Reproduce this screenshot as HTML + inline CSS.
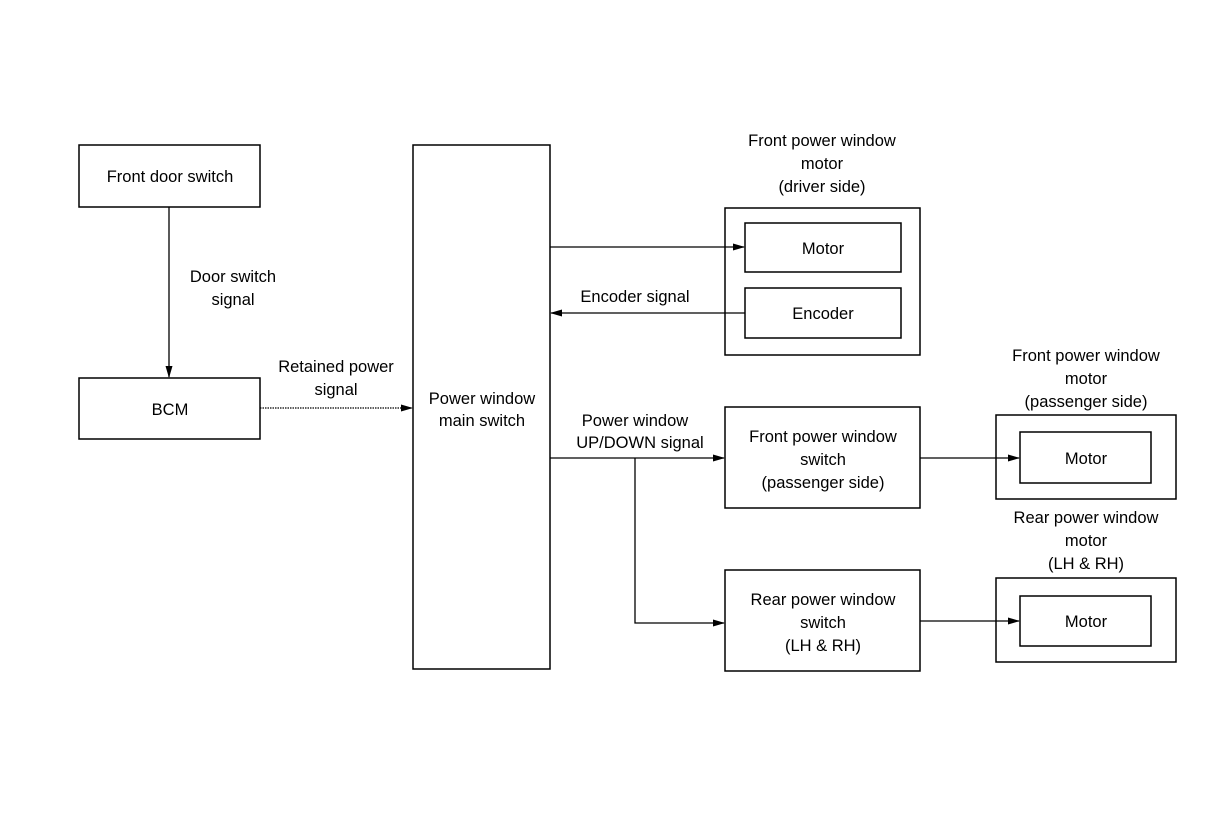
<!DOCTYPE html>
<html><head><meta charset="utf-8"><style>
body{margin:0;background:#fff}
svg{display:block}
text{font-family:"Liberation Sans",sans-serif;font-size:16.5px;fill:#000;text-anchor:middle}
rect{fill:none;stroke:#000;stroke-width:1.5}
line,polyline{stroke:#000;stroke-width:1.3;fill:none}
</style></head><body>
<svg width="1216" height="822" viewBox="0 0 1216 822">
<defs><marker id="a" markerWidth="12" markerHeight="8" refX="11" refY="4" orient="auto" markerUnits="userSpaceOnUse"><path d="M0,0.5 L12,4 L0,7.5z" fill="#000"/></marker></defs>
<rect x="79" y="145" width="181" height="62"/>
<text x="170" y="182">Front door switch</text>
<rect x="79" y="378" width="181" height="61"/>
<text x="170" y="415">BCM</text>
<rect x="413" y="145" width="137" height="524"/>
<text x="482" y="404">Power window</text>
<text x="482" y="426">main switch</text>
<line x1="169" y1="207" x2="169" y2="377" marker-end="url(#a)"/>
<text x="233" y="282">Door switch</text>
<text x="233" y="305">signal</text>
<line x1="260" y1="408" x2="412" y2="408" stroke-dasharray="1.5,1" marker-end="url(#a)"/>
<text x="336" y="372">Retained power</text>
<text x="336" y="395">signal</text>
<text x="822" y="146">Front power window</text>
<text x="822" y="169">motor</text>
<text x="822" y="192">(driver side)</text>
<rect x="725" y="208" width="195" height="147"/>
<rect x="745" y="223" width="156" height="49"/>
<text x="823" y="254">Motor</text>
<rect x="745" y="288" width="156" height="50"/>
<text x="823" y="319">Encoder</text>
<line x1="550" y1="247" x2="744" y2="247" marker-end="url(#a)"/>
<line x1="745" y1="313" x2="551" y2="313" marker-end="url(#a)"/>
<text x="635" y="302">Encoder signal</text>
<text x="635" y="426">Power window</text>
<text x="640" y="448">UP/DOWN signal</text>
<rect x="725" y="407" width="195" height="101"/>
<text x="823" y="442">Front power window</text>
<text x="823" y="465">switch</text>
<text x="823" y="488">(passenger side)</text>
<rect x="725" y="570" width="195" height="101"/>
<text x="823" y="605">Rear power window</text>
<text x="823" y="628">switch</text>
<text x="823" y="651">(LH &amp; RH)</text>
<line x1="550" y1="458" x2="724" y2="458" marker-end="url(#a)"/>
<polyline points="635,458 635,623 724,623" marker-end="url(#a)"/>
<text x="1086" y="361">Front power window</text>
<text x="1086" y="384">motor</text>
<text x="1086" y="407">(passenger side)</text>
<rect x="996" y="415" width="180" height="84"/>
<rect x="1020" y="432" width="131" height="51"/>
<text x="1086" y="464">Motor</text>
<text x="1086" y="523">Rear power window</text>
<text x="1086" y="546">motor</text>
<text x="1086" y="569">(LH &amp; RH)</text>
<rect x="996" y="578" width="180" height="84"/>
<rect x="1020" y="596" width="131" height="50"/>
<text x="1086" y="627">Motor</text>
<line x1="920" y1="458" x2="1019" y2="458" marker-end="url(#a)"/>
<line x1="920" y1="621" x2="1019" y2="621" marker-end="url(#a)"/>
</svg>
</body></html>
